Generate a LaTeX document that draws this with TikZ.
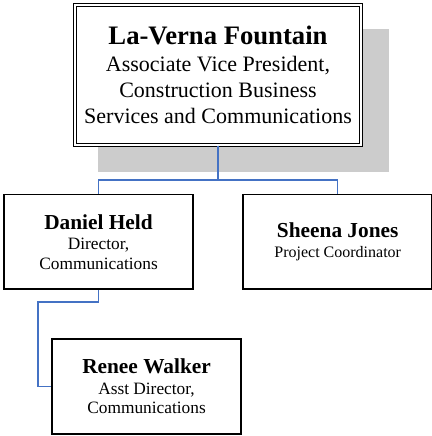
\documentclass[tikz,border=0pt]{standalone}
\usepackage{fontspec}
\setmainfont{Liberation Serif}
\usepackage{xcolor}
\usetikzlibrary{positioning, shadows}
\definecolor{linkblue}{HTML}{4472C4}
\definecolor{shadowgrey}{HTML}{CCCCCC}
\tikzstyle{headbox} = [rectangle, minimum width=214pt, minimum height=105pt, text centered, align=center, draw=black, double, double distance=1.6pt, line width=0.8pt, fill=white, drop shadow={shadow xshift=19pt, shadow yshift=-18.5pt, shadow scale=1.02, fill=shadowgrey, opacity=1}, font=\fontsize{16.5}{19.5}\selectfont]
\tikzstyle{staffbox} = [rectangle, minimum width=142pt, minimum height=71pt, text centered, align=center, draw=black, line width=1.4pt, font=\fontsize{13}{14.5}\selectfont]
\tikzstyle{link} = [draw=linkblue, line width=1.1pt]

\begin{document}
\begin{tikzpicture}[node distance=36pt]
        \useasboundingbox (0,0) rectangle (324pt,-327pt);

        % Head of unit
        \node (fountain) [headbox] at (163.5pt,-56.25pt) {{\fontsize{20}{24}\selectfont\bfseries La-Verna Fountain}\\[1pt]Associate Vice President,\\Construction Business\\Services and Communications};

        % Staff
        \node (held) [staffbox, below=36pt of fountain, xshift=-89.6pt] {{\fontsize{16}{19}\selectfont\bfseries Daniel Held}\\[1pt]Director,\\Communications};
        \node (jones) [staffbox, right=36pt of held, font=\fontsize{12}{14}\selectfont] {{\fontsize{16}{19}\selectfont\bfseries Sheena Jones}\\[1pt]Project Coordinator};
        \node (walker) [staffbox, below=36pt of held, xshift=36pt] {{\fontsize{16}{19}\selectfont\bfseries Renee Walker}\\[1pt]Asst Director,\\Communications};

        % Connectors
        \draw [link] (fountain.south) -- ++(0,-26pt) -| (held.north);
        \draw [link] (fountain.south) -- ++(0,-26pt) -| (jones.north);
        \draw [link] (held.south) |- ++(-45.4pt,-9pt) |- (walker.west);
      \end{tikzpicture}
\end{document}
